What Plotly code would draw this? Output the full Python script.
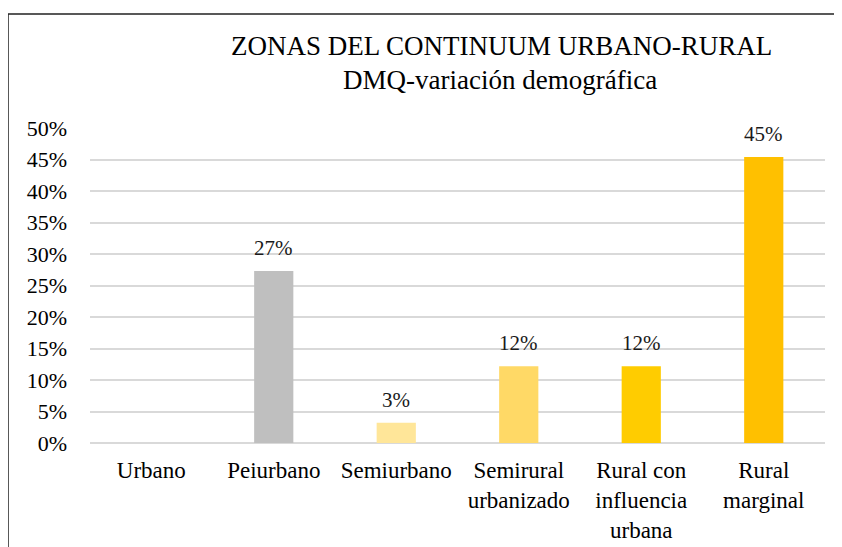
import plotly.graph_objects as go

categories = ["Urbano", "Peiurbano", "Semiurbano", "Semirural<br>urbanizado",
              "Rural con<br>influencia<br>urbana", "Rural<br>marginal"]
values = [0.0, 0.273, 0.032, 0.122, 0.122, 0.454]
colors = ["#BFBFBF", "#BFBFBF", "#FFE699", "#FFD966", "#FFCC00", "#FFC000"]
tick_vals = [0, 0.05, 0.10, 0.15, 0.20, 0.25, 0.30, 0.35, 0.40, 0.45, 0.50]
title_line1 = "ZONAS DEL CONTINUUM URBANO-RURAL"
title_line2 = "DMQ-variación demográfica"

labels = [f"{v:.0%}" if v > 0 else "" for v in values]

FONT = "Liberation Serif"
OFF = 8  # page body offset
W, H = 842, 547
ml, mr, mt = 90 - OFF, 25, 128 - OFF
mb = H - (443 - OFF)

fig = go.Figure(go.Bar(
    x=categories, y=values, marker_color=colors, marker_line_width=0,
    width=0.32, cliponaxis=False, hoverinfo="x+y",
))

pw = W - ml - mr
ph = H - mt - mb

def px_x(X):
    return (X - OFF - ml) / pw

def px_y(Y):
    return (H - mb - (Y - OFF)) / ph

annotations = [
    dict(text=title_line1, xref="paper", yref="paper",
         x=px_x(501), y=px_y(46),
         xanchor="center", yanchor="middle", showarrow=False,
         font=dict(family=FONT, size=27, color="#000")),
    dict(text=title_line2, xref="paper", yref="paper",
         x=px_x(500), y=px_y(80),
         xanchor="center", yanchor="middle", showarrow=False,
         font=dict(family=FONT, size=27, color="#000")),
]
for c, v, lab in zip(categories, values, labels):
    if lab:
        annotations.append(dict(text=lab, x=c, y=v, xref="x", yref="y",
                                yanchor="middle", yshift=23, showarrow=False,
                                font=dict(family=FONT, size=21, color="#1a1a1a")))

fig.update_layout(
    width=W, height=H,
    margin=dict(l=ml, r=mr, t=mt, b=mb),
    paper_bgcolor="white", plot_bgcolor="white",
    showlegend=False,
    font=dict(family=FONT, color="#000"),
    xaxis=dict(showgrid=False, showline=False, ticks="",
               tickfont=dict(family=FONT, size=23, color="#000"),
               ticklabelstandoff=11),
    yaxis=dict(range=[0, 0.5], tickvals=tick_vals, tickformat=".0%",
               showgrid=True, gridcolor="#D9D9D9", gridwidth=1.5,
               zeroline=True, zerolinecolor="#D9D9D9", zerolinewidth=1.5,
               showline=False, ticks="",
               tickfont=dict(family=FONT, size=22, color="#000"),
               ticklabelstandoff=22),
    annotations=annotations,
    shapes=[dict(type="rect", xref="paper", yref="paper",
                 x0=px_x(8), x1=px_x(860),
                 y0=px_y(580), y1=px_y(14),
                 line=dict(color="#222", width=1.5), fillcolor="rgba(0,0,0,0)",
                 layer="below")],
)

fig.write_html("out.html")
